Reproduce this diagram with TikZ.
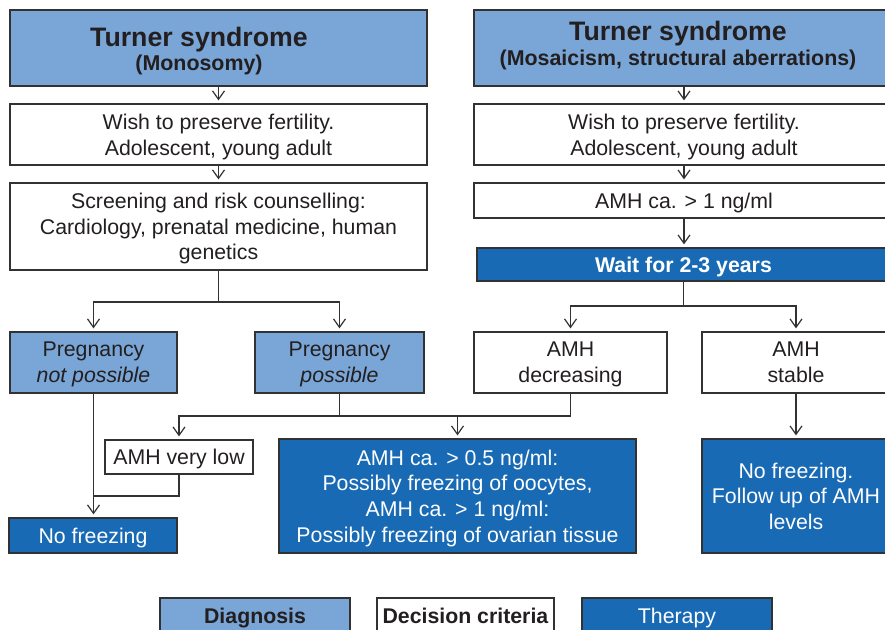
\documentclass[tikz,border=0pt]{standalone}
\usepackage{fontspec}
\setmainfont{Liberation Sans}
\usetikzlibrary{arrows.meta}
\definecolor{diagblue}{RGB}{121,166,214}
\definecolor{therblue}{RGB}{24,106,180}
\definecolor{edge}{RGB}{50,50,50}
\definecolor{ink}{RGB}{35,31,32}

% box given by its corners: style, name, x1, y1, x2, y2, text
\newcommand\flowbox[7]{%
  \node[#1, minimum width={((#5)-(#3))*1pt}, minimum height={((#6)-(#4))*1pt}]
    (#2) at ({((#3)+(#5))/2},{((#4)+(#6))/2}) {#7};}

\begin{document}
\begin{tikzpicture}[x=1pt,y=-1pt,
  box/.style={draw=edge, line width=1.2pt, inner sep=0pt, align=center, text=ink,
    text depth=0pt, font=\fontsize{21.3}{25.7}\selectfont},
  diagbox/.style={box, fill=diagblue},
  critbox/.style={box, fill=white},
  therbox/.style={box, fill=therblue, text=white},
  titletext/.style={inner sep=0pt, text=ink, text depth=0pt, font=\bfseries\fontsize{26.7}{30}\selectfont},
  subtext/.style={inner sep=0pt, text=ink, text depth=0pt, font=\bfseries\fontsize{21.4}{25}\selectfont},
  link/.style={draw=edge, line width=1.2pt},
  arr/.style={link, -{Straight Barb[length=8.5pt,width=12pt,line width=1.2pt]}, shorten >=3pt},
]
\useasboundingbox (0,0) rectangle (885,629);
\clip (0,0) rectangle (885,629);

% left column: monosomy
\flowbox{diagbox}{t1}{10}{10}{427}{86}{}
\node[titletext] (t1a) at (199,37) {Turner syndrome};
\node[subtext] (t1b) at (199,63) {(Monosomy)};
\flowbox{critbox}{w1}{10}{104}{427}{165}{Wish to preserve fertility.\\Adolescent, young adult}
\flowbox{critbox}{s1}{10}{183}{427}{270}{Screening and risk counselling:\\Cardiology, prenatal medicine, human\\genetics}
\flowbox{diagbox}{pn}{10}{332}{177}{393}{Pregnancy\\\textit{not possible}}
\flowbox{diagbox}{pp}{255}{332}{424}{393}{Pregnancy\\\textit{possible}}
\flowbox{critbox}{avl}{105}{440}{253}{474}{AMH very low}
\flowbox{therbox}{nf}{9}{518}{177}{553}{No freezing}
\flowbox{therbox}{ac}{279}{439}{636}{553}{AMH ca. > 0.5 ng/ml:\\Possibly freezing of oocytes,\\AMH ca. > 1 ng/ml:\\Possibly freezing of ovarian tissue}

% right column: mosaicism, structural aberrations
\flowbox{diagbox}{t2}{474}{10}{894}{86}{}
\node[titletext] (t2a) at (678,31) {Turner syndrome};
\node[subtext] (t2b) at (678,58) {(Mosaicism, structural aberrations)};
\flowbox{critbox}{w2}{474}{104}{894}{165}{Wish to preserve fertility.\\Adolescent, young adult}
\flowbox{critbox}{a1}{474}{183}{894}{218}{AMH ca. > 1 ng/ml}
\flowbox{therbox}{wt}{477}{248}{890}{281}{\textbf{Wait for 2-3 years}}
\flowbox{critbox}{ad}{474}{332}{667}{393}{AMH\\decreasing}
\flowbox{critbox}{as}{702}{332}{890}{393}{AMH\\stable}
\flowbox{therbox}{nff}{702}{439}{890}{553}{No freezing.\\Follow up of AMH\\levels}

% legend
\flowbox{diagbox}{lg1}{160}{598}{350}{634}{\textbf{Diagnosis}}
\flowbox{critbox}{lg2}{377}{598}{554}{634}{\textbf{Decision criteria}}
\flowbox{therbox}{lg3}{582}{598}{772}{634}{Therapy}

% connectors, left
\draw[arr] (t1.south) -- (w1.north);
\draw[arr] (w1.south) -- (s1.north);
\coordinate (j1) at (218.5,302);
\draw[link] (s1.south) -- (j1);
\draw[arr] (j1) -| (pn.north);
\draw[arr] (j1) -| (pp.north);
\coordinate (j2) at (339.5,416);
\draw[link] (pp.south) -- (j2);
\draw[arr] (j2) -| (avl.north);
\draw[link] (ad.south) |- (j2);
\draw[arr] (ac.north |- j2) -- (ac.north);
\draw[arr] (pn.south) -- (pn.south |- nf.north);
\coordinate (j3) at (pn.south |- 0,496);
\draw[link] (avl.south) |- (j3);

% connectors, right
\draw[arr] (t2.south) -- (w2.north);
\draw[arr] (w2.south) -- (a1.north);
\draw[arr] (a1.south) -- (a1.south |- wt.north);
\coordinate (j4) at (683.5,306);
\draw[link] (wt.south) -- (j4);
\draw[arr] (j4) -| (ad.north);
\draw[arr] (j4) -| (as.north);
\draw[arr] (as.south) -- (nff.north);
\end{tikzpicture}
\end{document}
